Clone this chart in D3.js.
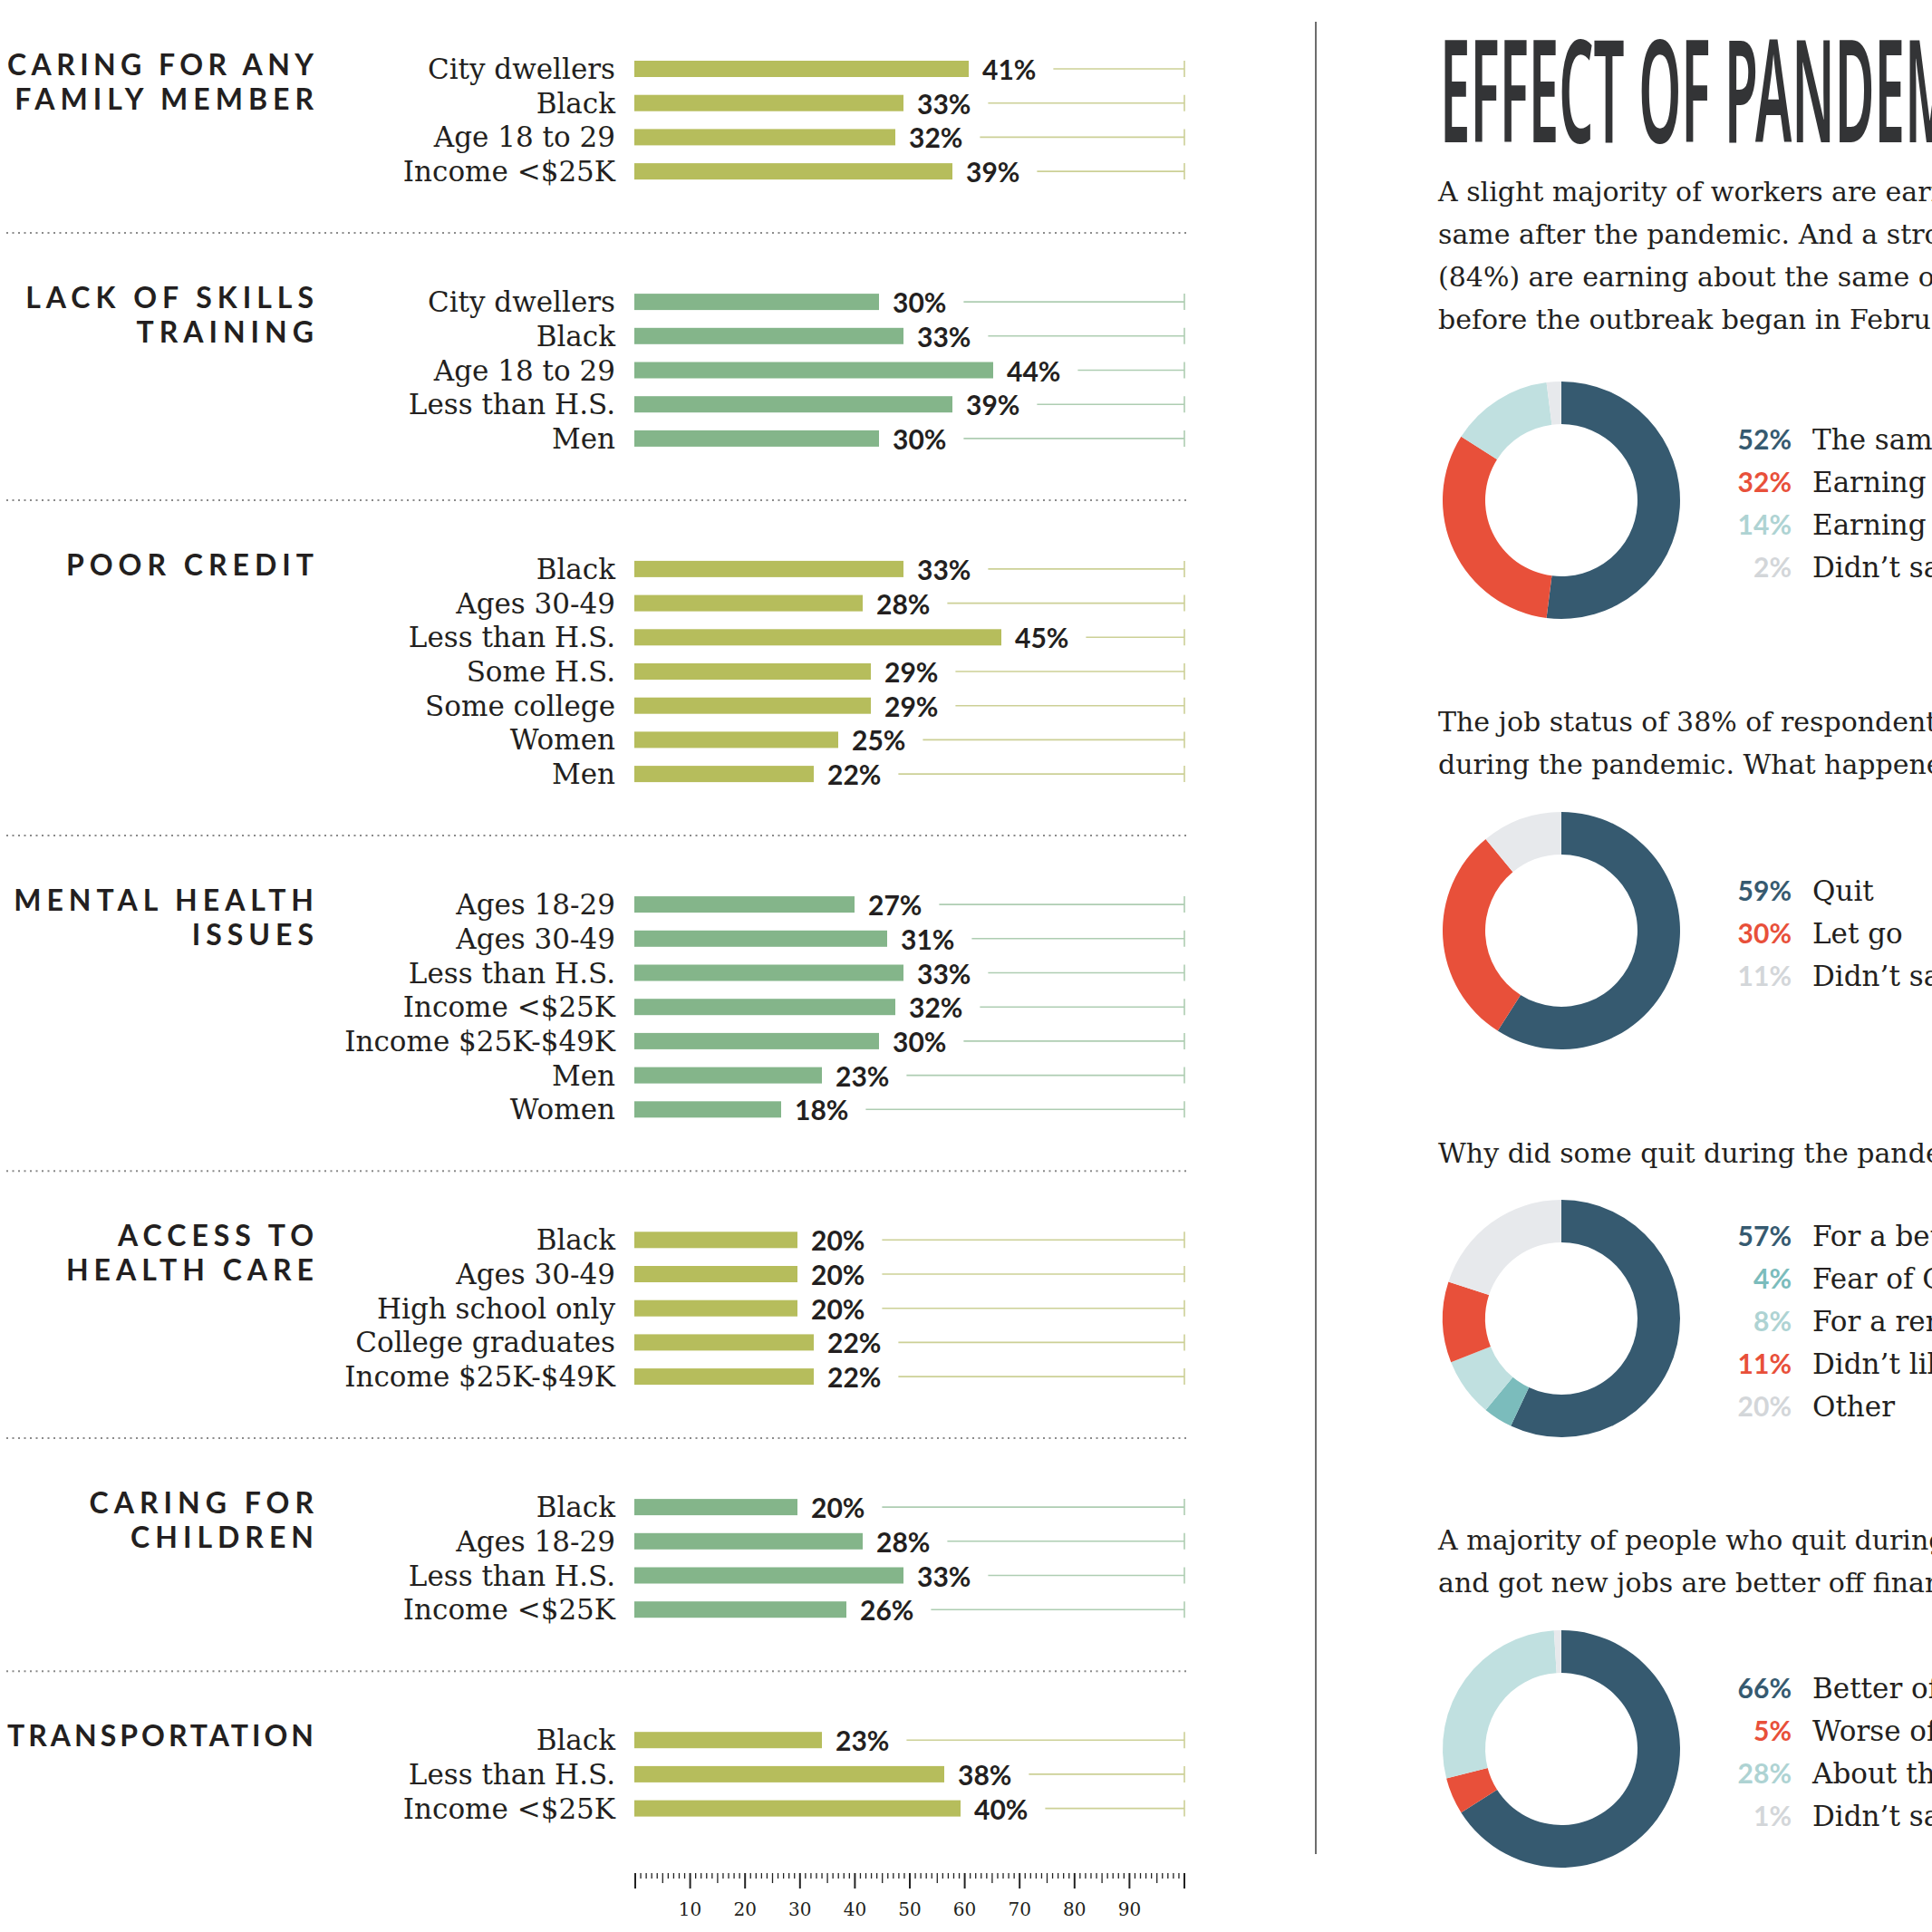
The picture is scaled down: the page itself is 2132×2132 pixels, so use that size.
<!DOCTYPE html>
<html>
<head>
<meta charset="utf-8">
<script src="https://cdn.jsdelivr.net/npm/d3@7"></script>
<style>
  body { margin: 0; background: #fff; }
  svg { display: block; }
</style>
</head>
<body>
<div id="chart"></div>
<script>
// ---- Bar data (left side) ----
const groupTitles = [
  ["CARING FOR ANY", "FAMILY MEMBER"],
  ["LACK OF SKILLS", "TRAINING"],
  ["POOR CREDIT"],
  ["MENTAL HEALTH", "ISSUES"],
  ["ACCESS TO", "HEALTH CARE"],
  ["CARING FOR", "CHILDREN"],
  ["TRANSPORTATION"]
];

const groupLabels = [
  ["City dwellers", "Black", "Age 18 to 29", "Income <$25K"],
  ["City dwellers", "Black", "Age 18 to 29", "Less than H.S.", "Men"],
  ["Black", "Ages 30-49", "Less than H.S.", "Some H.S.", "Some college", "Women", "Men"],
  ["Ages 18-29", "Ages 30-49", "Less than H.S.", "Income <$25K", "Income $25K-$49K", "Men", "Women"],
  ["Black", "Ages 30-49", "High school only", "College graduates", "Income $25K-$49K"],
  ["Black", "Ages 18-29", "Less than H.S.", "Income <$25K"],
  ["Black", "Less than H.S.", "Income <$25K"]
];

const groupValues = [
  [41, 33, 32, 39],
  [30, 33, 44, 39, 30],
  [33, 28, 45, 29, 29, 25, 22],
  [27, 31, 33, 32, 30, 23, 18],
  [20, 20, 20, 22, 22],
  [20, 28, 33, 26],
  [23, 38, 40]
];

// ruler tick labels
const rulerLabels = [10, 20, 30, 40, 50, 60, 70, 80, 90];

// ---- Right side ----
const titleText = "EFFECT OF PANDEMIC ON EARNINGS";

const paragraphs = [
  ["A slight majority of workers are earning about the",
   "same after the pandemic. And a strong majority",
   "(84%) are earning about the same or more than",
   "before the outbreak began in February 2020."],
  ["The job status of 38% of respondents changed",
   "during the pandemic. What happened?"],
  ["Why did some quit during the pandemic?"],
  ["A majority of people who quit during the pandemic",
   "and got new jobs are better off financially."]
];

const donutValues = [
  [52, 32, 14, 2],
  [59, 30, 11],
  [57, 4, 8, 11, 20],
  [66, 5, 28, 1]
];

const donutLabels = [
  ["The same", "Earning more", "Earning less", "Didn\u2019t say"],
  ["Quit", "Let go", "Didn\u2019t say"],
  ["For a better job", "Fear of COVID", "For a remote job", "Didn\u2019t like job", "Other"],
  ["Better off", "Worse off", "About the same", "Didn\u2019t say"]
];

// ---- Styles ----
const olive = "#b6bd5c", oliveLine = "#ccd096";
const sage = "#84b58a", sageLine = "#aecdb2";
const ink = "#231f20";
const serif = "'DejaVu Serif', serif";
const sans = "Lato, 'Open Sans', sans-serif";

const dark = "#365a70", red = "#e8503a", light = "#c0e0e0", grey = "#e7e9ec", teal = "#7bbcbc";
const sliceColors = [
  [dark, red, light, grey],
  [dark, red, grey],
  [dark, teal, light, red, grey],
  [dark, red, light, grey]
];
const pctColors = {};
pctColors[dark] = dark; pctColors[red] = red; pctColors[light] = "#aed3d3";
pctColors[grey] = "#d3d6d9"; pctColors[teal] = teal;

const width = 2132, height = 2132;

var svg = d3.select("#chart")
            .append("svg")
                .attr("width", width)
                .attr("height", height);

/* Left: bar groups */

var xBar = d3.scaleLinear().domain([0, 100]).range([700, 1600]);
var barEnd = 1307;
var rowStep = 37.7;
var barH = 18;
var firstRow = 76;

groupTitles.forEach(function(title, gi) {
    var labels = groupLabels[gi];
    var values = groupValues[gi];
    var fill = gi % 2 === 0 ? olive : sage;
    var lineColor = gi % 2 === 0 ? oliveLine : sageLine;

    var yScale = d3.scalePoint()
                    .domain(labels)
                    .range([firstRow, firstRow + (labels.length - 1) * rowStep]);

    var g = svg.append("g").attr("class", "group");

    // group title
    g.selectAll("text.gtitle")
        .data(title)
        .enter()
        .append("text")
            .attr("class", "gtitle")
            .attr("x", 352)
            .attr("y", function(d, i) { return firstRow - 4 + i * 38 + 11; })
            .attr("text-anchor", "end")
            .style("font-family", sans)
            .style("font-weight", 700)
            .style("font-size", "32px")
            .style("letter-spacing", "6px")
            .attr("fill", ink)
            .text(function(d) { return d; })
            .each(function() {
                // keep long titles inside the left edge
                if (this.getComputedTextLength() > 344) {
                    d3.select(this)
                        .attr("textLength", 344)
                        .attr("lengthAdjust", "spacing");
                }
            });

    var rows = g.selectAll("g.row")
        .data(labels.map(function(l, i) { return {label: l, value: values[i]}; }))
        .enter()
        .append("g")
            .attr("class", "row");

    rows.append("text")
        .attr("x", 679)
        .attr("y", function(d) { return yScale(d.label) + 11; })
        .attr("text-anchor", "end")
        .style("font-family", serif)
        .style("font-size", "31px")
        .attr("fill", ink)
        .text(function(d) { return d.label; });

    rows.append("rect")
        .attr("x", xBar(0))
        .attr("y", function(d) { return yScale(d.label) - barH / 2; })
        .attr("width", function(d) { return xBar(d.value) - xBar(0); })
        .attr("height", barH)
        .attr("fill", fill);

    rows.append("text")
        .attr("class", "val")
        .attr("x", function(d) { return xBar(d.value) + 15; })
        .attr("y", function(d) { return yScale(d.label) + 12; })
        .style("font-family", sans)
        .style("font-weight", 700)
        .style("font-size", "30px")
        .attr("fill", ink)
        .text(function(d) { return d.value + "%"; });

    // guide lines to the end cap
    rows.each(function(d) {
        var row = d3.select(this);
        var tw = row.select("text.val").node().getComputedTextLength();
        var y = yScale(d.label);
        row.append("line")
            .attr("x1", xBar(d.value) + 15 + tw + 19)
            .attr("x2", barEnd)
            .attr("y1", y).attr("y2", y)
            .attr("stroke", lineColor)
            .attr("stroke-width", 1.6);
        row.append("line")
            .attr("x1", barEnd).attr("x2", barEnd)
            .attr("y1", y - 9).attr("y2", y + 9)
            .attr("stroke", lineColor)
            .attr("stroke-width", 1.6);
    });

    var lastRow = firstRow + (labels.length - 1) * rowStep;

    // dotted separator
    if (gi < groupTitles.length - 1) {
        var sepY = lastRow + 68;
        svg.append("line")
            .attr("x1", 7).attr("x2", 1310)
            .attr("y1", sepY).attr("y2", sepY)
            .attr("stroke", "#8a8a8a")
            .attr("stroke-width", 2)
            .attr("stroke-dasharray", "2,4.5");
        firstRow = sepY + 76;
    }
});

/* Ruler */

var xRuler = d3.scaleLinear().domain([0, 100]).range([701, 1307]);
var rulerTop = 2067;

svg.append("g")
    .selectAll("line")
    .data(d3.range(0, 101))
    .enter()
    .append("line")
        .attr("x1", function(d) { return xRuler(d); })
        .attr("x2", function(d) { return xRuler(d); })
        .attr("y1", rulerTop)
        .attr("y2", function(d) { return rulerTop + (d % 10 === 0 ? 17 : d % 5 === 0 ? 11 : 6); })
        .attr("stroke", "#222")
        .attr("stroke-width", function(d) { return d % 10 === 0 ? 2 : 1.3; });

svg.append("g")
    .selectAll("text")
    .data(rulerLabels)
    .enter()
    .append("text")
        .attr("x", function(d) { return xRuler(d); })
        .attr("y", 2114)
        .attr("text-anchor", "middle")
        .style("font-family", serif)
        .style("font-size", "20px")
        .attr("fill", ink)
        .text(function(d) { return d; });

/* Divider */

svg.append("line")
    .attr("x1", 1452).attr("x2", 1452)
    .attr("y1", 24).attr("y2", 2046)
    .attr("stroke", "#6d6d6d")
    .attr("stroke-width", 2);

/* Right: title, paragraphs, donuts */

// condensed headline: squeeze horizontally so the 16th letter starts where it does in print
var title = svg.append("text")
    .attr("transform", "translate(1589,157)")
    .style("font-family", "'Noto Sans', sans-serif")
    .style("font-weight", 600)
    .style("font-stretch", "62.5%")
    .style("font-size", "157px")
    .attr("fill", "#333436")
    .text(titleText);
var mStart = title.node().getStartPositionOfChar(15).x;
title.attr("transform", "translate(1589,157) scale(" + (513 / mStart) + ",1)");

var paraBaselines = [[222, 269, 316, 363], [807, 854], [1283], [1710, 1757]];

paragraphs.forEach(function(lines, pi) {
    svg.append("g")
        .selectAll("text")
        .data(lines)
        .enter()
        .append("text")
            .attr("x", 1587)
            .attr("y", function(d, i) { return paraBaselines[pi][i]; })
            .style("font-family", serif)
            .style("font-size", "30px")
            .attr("fill", ink)
            .text(function(d) { return d; });
});

var donutCenters = [552, 1027, 1455, 1930];
var arc = d3.arc().innerRadius(84).outerRadius(131);
var pie = d3.pie().sort(null).value(function(d) { return d; });

donutValues.forEach(function(vals, di) {
    var cy = donutCenters[di];
    var colors = sliceColors[di];
    var labels = donutLabels[di];

    var g = svg.append("g")
        .attr("transform", "translate(1723," + cy + ")");

    g.selectAll("path")
        .data(pie(vals))
        .enter()
        .append("path")
            .attr("d", arc)
            .attr("fill", function(d, i) { return colors[i]; });

    var step = 47;
    var legY = d3.scalePoint()
        .domain(d3.range(vals.length))
        .range([cy - (vals.length - 1) * step / 2, cy + (vals.length - 1) * step / 2]);

    var leg = svg.append("g")
        .selectAll("g")
        .data(vals)
        .enter()
        .append("g");

    leg.append("text")
        .attr("x", 1977)
        .attr("y", function(d, i) { return legY(i) + 14; })
        .attr("text-anchor", "end")
        .style("font-family", sans)
        .style("font-weight", 700)
        .style("font-size", "30px")
        .attr("fill", function(d, i) { return pctColors[colors[i]]; })
        .text(function(d) { return d + "%"; });

    leg.append("text")
        .attr("x", 2000)
        .attr("y", function(d, i) { return legY(i) + 14; })
        .style("font-family", serif)
        .style("font-size", "31px")
        .attr("fill", ink)
        .text(function(d, i) { return labels[i]; });
});
</script>
</body>
</html>
